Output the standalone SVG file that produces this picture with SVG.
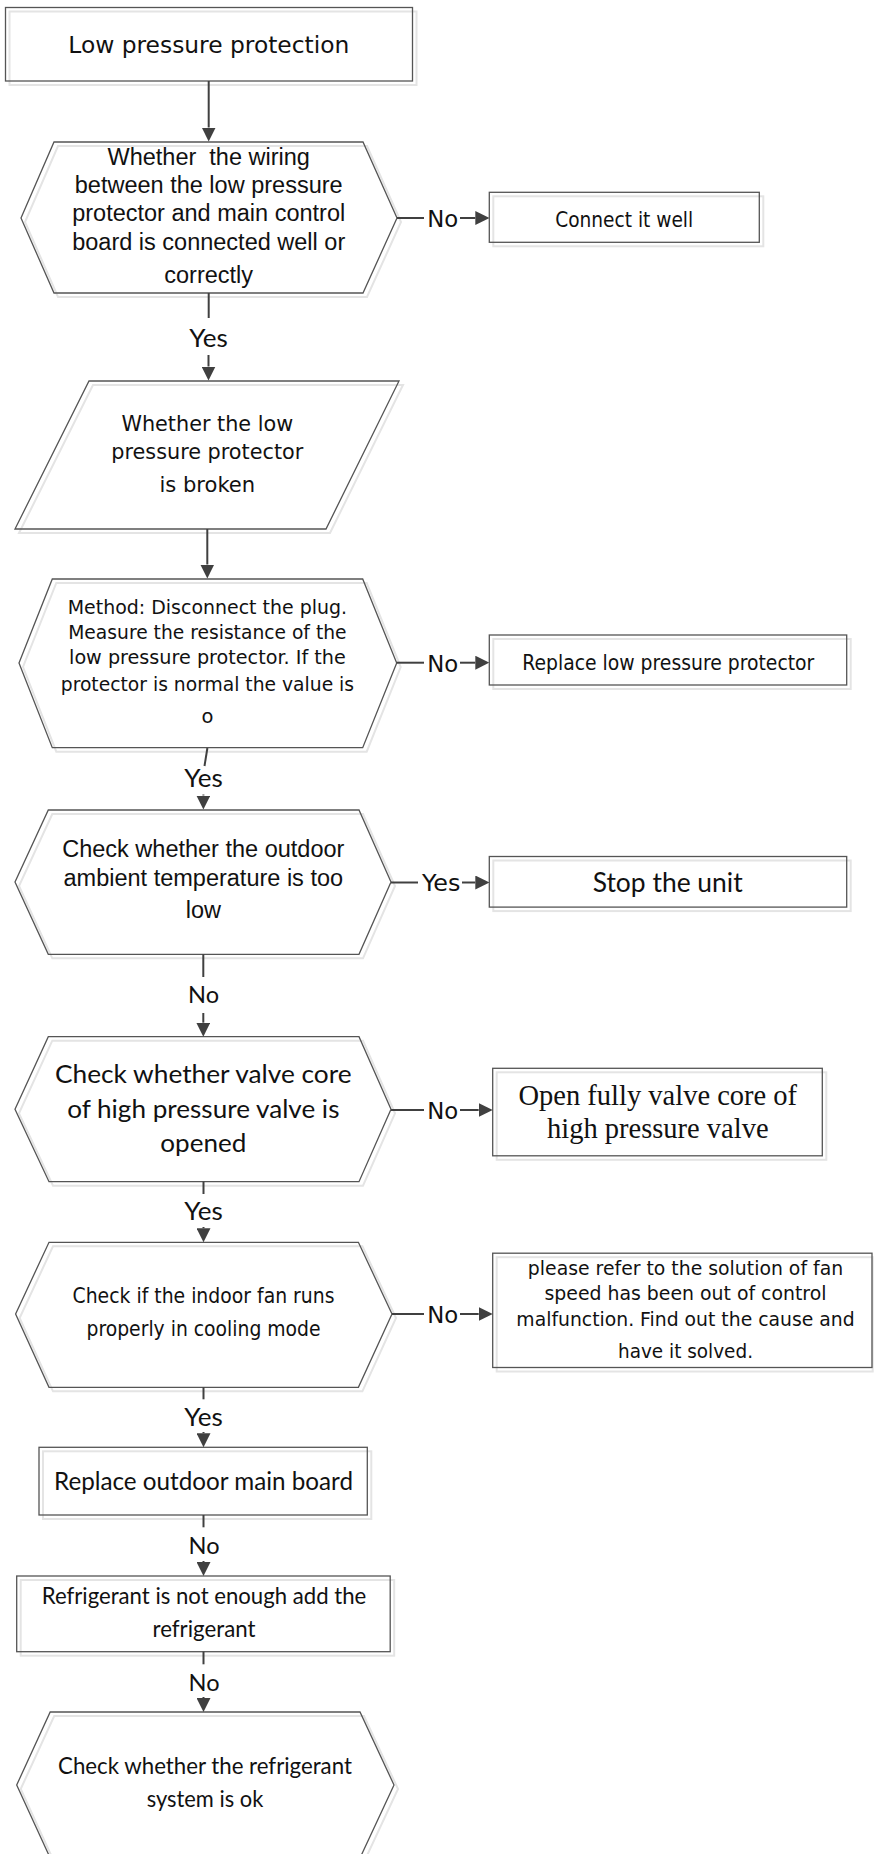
<svg xmlns="http://www.w3.org/2000/svg" width="874" height="1854" viewBox="0 0 874 1854">
<style>
.sh{fill:none;stroke:#e4e4e4;stroke-width:2}
.nd{fill:none;stroke:#555;stroke-width:1.3}
.t{font-family:"DejaVu Sans",Verdana,sans-serif;fill:#111;text-anchor:middle}
.a{font-family:"Liberation Sans",Arial,sans-serif;fill:#111;text-anchor:middle;font-size:23.5px}
.c{font-family:Lato,"Open Sans",sans-serif;fill:#111;text-anchor:middle}
.s{font-family:"Liberation Serif","Times New Roman",serif;fill:#111;text-anchor:middle;font-size:28.5px}
.ln{fill:none;stroke:#404040;stroke-width:2}
.ar{fill:none;stroke:#404040;stroke-width:2;marker-end:url(#ah)}
.lv{font-family:Lato,"Open Sans",sans-serif;fill:#111;text-anchor:middle}
.lh{font-family:"DejaVu Sans",Verdana,sans-serif;fill:#111;text-anchor:middle;font-size:23px}
</style>
<defs>
<marker id="ah" markerWidth="14" markerHeight="14" refX="0" refY="7" orient="auto" markerUnits="userSpaceOnUse">
<path d="M0,0 L14,7 L0,14 z" fill="#404040"/>
</marker>
</defs>
<rect width="874" height="1854" fill="#fff"/>

<g id="n-start">
<rect class="sh" x="9.5" y="11.5" width="407" height="73.5"/>
<rect class="nd" x="5.5" y="7.5" width="407" height="73.5"/>
<text class="t" x="208.8" y="53" font-size="23" textLength="281" lengthAdjust="spacingAndGlyphs">Low pressure protection</text>
</g>

<g id="n-wiring">
<polygon class="sh" points="58,146 367,146 401,222 367,297 58,297 25,222"/>
<polygon class="nd" points="54,142 363,142 397,218 363,293 54,293 21,218"/>
<text class="a" x="208.7" y="165" xml:space="preserve">Whether  the wiring</text>
<text class="a" x="208.7" y="193">between the low pressure</text>
<text class="a" x="208.7" y="221">protector and main control</text>
<text class="a" x="208.7" y="250">board is connected well or</text>
<text class="a" x="208.7" y="283">correctly</text>
</g>

<g id="n-connect">
<rect class="sh" x="493.3" y="196.3" width="270" height="50"/>
<rect class="nd" x="489.3" y="192.3" width="270" height="50"/>
<text class="t" x="624.2" y="226.7" font-size="21.5" textLength="138" lengthAdjust="spacingAndGlyphs">Connect it well</text>
</g>

<g id="n-broken">
<polygon class="sh" points="93,385 403,385 330,533 19,533"/>
<polygon class="nd" points="89,381 399,381 326,529 15,529"/>
<text class="t" x="207.3" y="431" font-size="21" textLength="171.7" lengthAdjust="spacingAndGlyphs">Whether the low</text>
<text class="t" x="207.3" y="459.3" font-size="21" textLength="192" lengthAdjust="spacingAndGlyphs">pressure protector</text>
<text class="t" x="207.3" y="491.7" font-size="21" textLength="95.7" lengthAdjust="spacingAndGlyphs">is broken</text>
</g>

<g id="n-method">
<polygon class="sh" points="56.3,583 366.7,583 400.7,667 366.7,751.7 56.3,751.7 23,667"/>
<polygon class="nd" points="52.3,579 362.7,579 396.7,663 362.7,747.7 52.3,747.7 19,663"/>
<text class="t" x="207.4" y="614" font-size="19.5" textLength="279.3" lengthAdjust="spacingAndGlyphs">Method: Disconnect the plug.</text>
<text class="t" x="207.4" y="639.3" font-size="19.5" textLength="278.3" lengthAdjust="spacingAndGlyphs">Measure the resistance of the</text>
<text class="t" x="207.4" y="664.3" font-size="19.5" textLength="276.7" lengthAdjust="spacingAndGlyphs">low pressure protector. If the</text>
<text class="t" x="207.4" y="691" font-size="19.5" textLength="293.3" lengthAdjust="spacingAndGlyphs">protector is normal the value is</text>
<text class="t" x="207.4" y="722.7" font-size="19.5">o</text>
</g>

<g id="n-replace-lpp">
<rect class="sh" x="493.3" y="639" width="357.4" height="50"/>
<rect class="nd" x="489.3" y="635" width="357.4" height="50"/>
<text class="t" x="668.3" y="670" font-size="21.5" textLength="292" lengthAdjust="spacingAndGlyphs">Replace low pressure protector</text>
</g>

<g id="n-ambient">
<polygon class="sh" points="52.3,814 363,814 395,886 363,958.3 52.3,958.3 19,886"/>
<polygon class="nd" points="48.3,810 359,810 391,882 359,954.3 48.3,954.3 15,882"/>
<text class="a" x="203.3" y="857.3">Check whether the outdoor</text>
<text class="a" x="203.3" y="886">ambient temperature is too</text>
<text class="a" x="203.3" y="918.3">low</text>
</g>

<g id="n-stop">
<rect class="sh" x="493.3" y="860.5" width="357.4" height="50.6"/>
<rect class="nd" x="489.3" y="856.5" width="357.4" height="50.6"/>
<text class="c" x="667.7" y="891.7" font-size="26" textLength="150" lengthAdjust="spacingAndGlyphs">Stop the unit</text>
</g>

<g id="n-valve">
<polygon class="sh" points="52.3,1040.7 363,1040.7 395,1113.3 363,1185.7 53,1185.7 19,1113.3"/>
<polygon class="nd" points="48.3,1036.7 359,1036.7 391,1109.3 359,1181.7 49,1181.7 15,1109.3"/>
<text class="c" x="203.3" y="1083.3" font-size="25" textLength="296.7" lengthAdjust="spacingAndGlyphs">Check whether valve core</text>
<text class="c" x="203.3" y="1117.7" font-size="25" textLength="272.3" lengthAdjust="spacingAndGlyphs">of high pressure valve is</text>
<text class="c" x="203.3" y="1151.7" font-size="25" textLength="86" lengthAdjust="spacingAndGlyphs">opened</text>
</g>

<g id="n-open">
<rect class="sh" x="496.7" y="1072.3" width="329.6" height="87.5"/>
<rect class="nd" x="492.7" y="1068.3" width="329.6" height="87.5"/>
<text class="s" x="657.8" y="1104.5">Open fully valve core of</text>
<text class="s" x="657.8" y="1137.5">high pressure valve</text>
</g>

<g id="n-fan">
<polygon class="sh" points="53,1246.3 362.4,1246.3 396,1318 362.4,1391.3 53,1391.3 19.6,1318"/>
<polygon class="nd" points="49,1242.3 358.4,1242.3 392,1314 358.4,1387.3 49,1387.3 15.6,1314"/>
<text class="t" x="203.5" y="1303.3" font-size="20.5" textLength="262" lengthAdjust="spacingAndGlyphs">Check if the indoor fan runs</text>
<text class="t" x="203.5" y="1335.5" font-size="20.5" textLength="234" lengthAdjust="spacingAndGlyphs">properly in cooling mode</text>
</g>

<g id="n-refer">
<rect class="sh" x="496.7" y="1257.2" width="376" height="114.3"/>
<rect class="nd" x="492.7" y="1253.2" width="379.3" height="114.3"/>
<text class="t" x="685.5" y="1274.6" font-size="19.5" textLength="315.3" lengthAdjust="spacingAndGlyphs">please refer to the solution of fan</text>
<text class="t" x="685.5" y="1299.7" font-size="19.5" textLength="282" lengthAdjust="spacingAndGlyphs">speed has been out of control</text>
<text class="t" x="685.5" y="1325.5" font-size="19.5" textLength="338.3" lengthAdjust="spacingAndGlyphs">malfunction. Find out the cause and</text>
<text class="t" x="685.5" y="1357.6" font-size="19.5" textLength="135" lengthAdjust="spacingAndGlyphs">have it solved.</text>
</g>

<g id="n-mainboard">
<rect class="sh" x="43" y="1451.3" width="328.3" height="67.7"/>
<rect class="nd" x="39" y="1447.3" width="328.3" height="67.7"/>
<text class="c" x="203.5" y="1490" font-size="25" textLength="299" lengthAdjust="spacingAndGlyphs">Replace outdoor main board</text>
</g>

<g id="n-refrigerant">
<rect class="sh" x="20.7" y="1580" width="373.5" height="75.7"/>
<rect class="nd" x="16.7" y="1576" width="373.5" height="75.7"/>
<text class="c" x="204" y="1604.3" font-size="24" textLength="324.4" lengthAdjust="spacingAndGlyphs">Refrigerant is not enough add the</text>
<text class="c" x="204" y="1636.7" font-size="24" textLength="103" lengthAdjust="spacingAndGlyphs">refrigerant</text>
</g>

<g id="n-system">
<polygon class="sh" points="54.2,1716 364,1716 398,1789 364,1862 54.2,1862 20.7,1789"/>
<polygon class="nd" points="50.2,1712 360,1712 394,1785 360,1858 50.2,1858 16.7,1785"/>
<text class="c" x="205" y="1774" font-size="24" textLength="293.8" lengthAdjust="spacingAndGlyphs">Check whether the refrigerant</text>
<text class="c" x="205" y="1806.7" font-size="24" textLength="116.5" lengthAdjust="spacingAndGlyphs">system is ok</text>
</g>

<g id="connectors">
<path class="ar" d="M208.7,81 V127.5"/>

<path class="ln" d="M397,218 H424"/>
<text class="lh" x="442.7" y="227" textLength="31" lengthAdjust="spacingAndGlyphs">No</text>
<path class="ar" d="M460,218 H475.3"/>

<path class="ln" d="M208.7,293 V318"/>
<text class="lv" x="208.5" y="347" font-size="25" textLength="38.5" lengthAdjust="spacingAndGlyphs">Yes</text>
<path class="ar" d="M208.5,355 V366.5"/>

<path class="ar" d="M207.3,529 V564.5"/>

<path class="ln" d="M396.7,662.7 H424"/>
<text class="lh" x="442.7" y="671.7" textLength="31" lengthAdjust="spacingAndGlyphs">No</text>
<path class="ar" d="M460,662.7 H475.3"/>

<path class="ln" d="M207.4,748 L204.5,766"/>
<text class="lv" x="203.5" y="786.7" font-size="25" textLength="38.5" lengthAdjust="spacingAndGlyphs">Yes</text>
<path class="ar" d="M203.4,794.5 V795.5"/>

<path class="ln" d="M391,882.5 H418"/>
<text class="lh" x="441.2" y="890.5" textLength="38.5" lengthAdjust="spacingAndGlyphs">Yes</text>
<path class="ar" d="M462,882.5 H475.3"/>

<path class="ln" d="M203.3,954.3 V977"/>
<text class="lv" x="203.6" y="1003.3" font-size="24" textLength="31" lengthAdjust="spacingAndGlyphs">No</text>
<path class="ar" d="M203.3,1013 V1022.7"/>

<path class="ln" d="M391,1110 H424"/>
<text class="lh" x="442.7" y="1119" textLength="31" lengthAdjust="spacingAndGlyphs">No</text>
<path class="ar" d="M460,1110 H478.7"/>

<path class="ln" d="M203.5,1181.7 V1194"/>
<text class="lv" x="203.5" y="1220" font-size="25" textLength="38.5" lengthAdjust="spacingAndGlyphs">Yes</text>
<path class="ar" d="M203.5,1227 V1228.3"/>

<path class="ln" d="M392,1314 H424"/>
<text class="lh" x="442.7" y="1323" textLength="31" lengthAdjust="spacingAndGlyphs">No</text>
<path class="ar" d="M460,1314 H478.7"/>

<path class="ln" d="M203.5,1387.3 V1399.3"/>
<text class="lv" x="203.5" y="1425.7" font-size="25" textLength="38.5" lengthAdjust="spacingAndGlyphs">Yes</text>
<path class="ar" d="M203.5,1432 V1433.3"/>

<path class="ln" d="M203.5,1515 V1527.3"/>
<text class="lv" x="204" y="1554" font-size="24" textLength="31" lengthAdjust="spacingAndGlyphs">No</text>
<path class="ar" d="M203.5,1561 V1562"/>

<path class="ln" d="M203.5,1651.7 V1664.3"/>
<text class="lv" x="204" y="1690.7" font-size="24" textLength="31" lengthAdjust="spacingAndGlyphs">No</text>
<path class="ar" d="M203.5,1697 V1698"/>
</g>
</svg>
